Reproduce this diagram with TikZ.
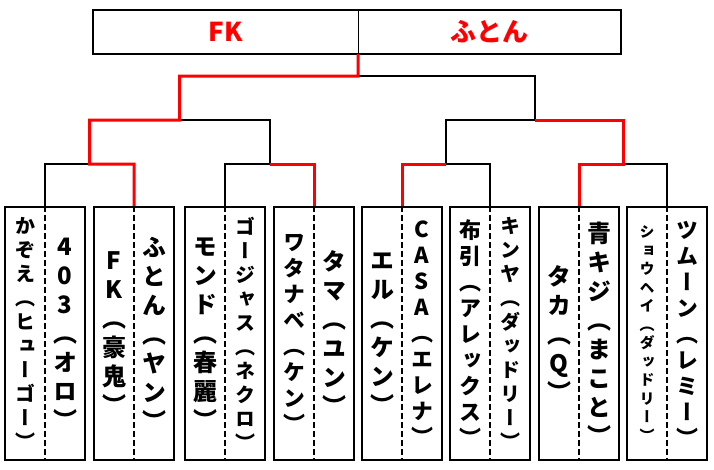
\documentclass[tikz,border=0pt]{standalone}
\usepackage{fontspec}
\newfontfamily\jp{Noto Sans CJK JP}
\newfontfamily\jpv[RawFeature=+vert]{Noto Sans CJK JP}
\usetikzlibrary{positioning}

\tikzset{
  champ/.style={font=\jp\bfseries\fontsize{26}{30}\selectfont, text=red, minimum width=265pt, minimum height=44pt, inner sep=0pt},
  entry/.style={draw, line width=2.3pt, minimum width=80pt, minimum height=253pt, inner sep=0pt},
  tate/.style 2 args={font=\jpv\bfseries\fontsize{#1}{#2}\selectfont, align=center, inner sep=0pt},
  split/.style={line width=1.6pt, dash pattern=on 6pt off 3pt},
  lose/.style={line width=2pt},
  win/.style={red, line width=3pt},
}

\begin{document}
\begin{tikzpicture}[x=1pt, y=-1pt]
  \useasboundingbox (0,0) rectangle (714,469);
  \node[champ] (fk) at (225.5,32) {FK};
  \node[champ, minimum width=262pt, right=0pt of fk] (futon) {ふとん};
  \draw[line width=2pt] (fk.north west) rectangle (futon.south east);
  \draw[line width=0.8pt] (fk.north east) -- (fk.south east);

  \foreach \x [count=\i] in {45,134,225,314,402,490,579,667}
    \node[entry] (b\i) at (\x,333.5) {};
  \foreach \i in {1,...,8}
    \draw[split] (b\i.north) -- (b\i.south);

  \coordinate (m12) at (89.5,164);
  \coordinate (m34) at (269.5,164);
  \coordinate (m56) at (446,164);
  \coordinate (m78) at (623,164);
  \coordinate (mL) at (179.5,120);
  \coordinate (mR) at (534.5,120);
  \coordinate (mF) at (358,76);

  \draw[lose] (b1.north) |- (m12);
  \draw[lose] (b3.north) |- (m34) |- (mL);
  \draw[lose] (b6.north) |- (m56) |- (mR) |- (mF);
  \draw[lose] (b8.north) |- (m78);
  \draw[win] (b2.north) |- (m12) |- (mL) |- (mF) -- (fk.south east);
  \draw[win] (b4.north) |- (m34);
  \draw[win] (b5.north) |- (m56);
  \draw[win] (b7.north) |- (m78) |- (mR);

  \node[tate={20}{24}] (p1a) at ([xshift=-20pt]b1.center) {か\\ぞ\\え\\（\\ヒ\\ュ\\ー\\ゴ\\ー\\）};
  \node[tate={24}{29}] (p1b) at ([xshift=20pt]b1.center) {4\\0\\3\\（\\オ\\ロ\\）};
  \node[tate={24}{29}] (p2a) at ([xshift=-20pt]b2.center) {F\\K\\（\\豪\\鬼\\）};
  \node[tate={24}{29}] (p2b) at ([xshift=20pt]b2.center) {ふ\\と\\ん\\（\\ヤ\\ン\\）};
  \node[tate={24}{29}] (p3a) at ([xshift=-20pt]b3.center) {モ\\ン\\ド\\（\\春\\麗\\）};
  \node[tate={20}{24}] (p3b) at ([xshift=20pt]b3.center) {ゴ\\ー\\ジ\\ャ\\ス\\（\\ネ\\ク\\ロ\\）};
  \node[tate={22}{26}] (p4a) at ([xshift=-20pt]b4.center) {ワ\\タ\\ナ\\ベ\\（\\ケ\\ン\\）};
  \node[tate={24}{29}] (p4b) at ([xshift=20pt]b4.center) {タ\\マ\\（\\ユ\\ン\\）};
  \node[tate={24}{29}] (p5a) at ([xshift=-20pt]b5.center) {エ\\ル\\（\\ケ\\ン\\）};
  \node[tate={22}{26}] (p5b) at ([xshift=20pt]b5.center) {C\\A\\S\\A\\（\\エ\\レ\\ナ\\）};
  \node[tate={22}{26}] (p6a) at ([xshift=-20pt]b6.center) {布\\引\\（\\ア\\レ\\ッ\\ク\\ス\\）};
  \node[tate={20}{24}] (p6b) at ([xshift=20pt]b6.center) {キ\\ン\\ヤ\\（\\ダ\\ッ\\ド\\リ\\ー\\）};
  \node[tate={24}{29}] (p7a) at ([xshift=-20pt]b7.center) {タ\\カ\\（\\Q\\）};
  \node[tate={24}{29}] (p7b) at ([xshift=20pt]b7.center) {青\\キ\\ジ\\（\\ま\\こ\\と\\）};
  \node[tate={15}{18.5}] (p8a) at ([xshift=-20pt]b8.center) {シ\\ョ\\ウ\\ヘ\\イ\\（\\ダ\\ッ\\ド\\リ\\ー\\）};
  \node[tate={22}{26}] (p8b) at ([xshift=20pt]b8.center) {ツ\\ム\\ー\\ン\\（\\レ\\ミ\\ー\\）};
\end{tikzpicture}
\end{document}
